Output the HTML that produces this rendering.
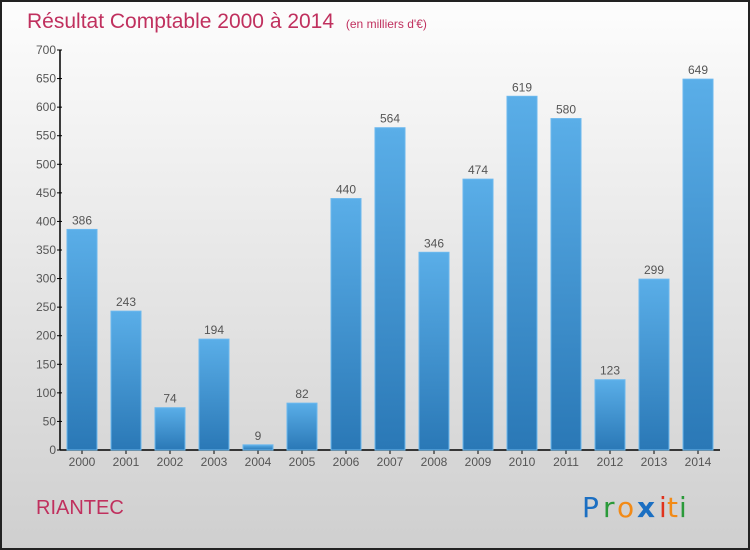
<!DOCTYPE html>
<html><head><meta charset="utf-8"><style>
body{margin:0;width:750px;height:550px;overflow:hidden;font-family:"Liberation Sans",sans-serif}
svg{display:block}
</style></head><body>
<svg id="chart" width="750" height="550">
<defs>
<linearGradient id="bg" x1="0" y1="0" x2="0" y2="1"><stop offset="0" stop-color="#fdfdfd"/><stop offset="1" stop-color="#cfcfcf"/></linearGradient>
<linearGradient id="bar" x1="0" y1="0" x2="0" y2="1"><stop offset="0" stop-color="#5aaee8"/><stop offset="1" stop-color="#2a78b6"/></linearGradient>
</defs>
<rect x="1" y="1" width="748" height="548" fill="url(#bg)" stroke="#222" stroke-width="2"/>
<text x="27" y="28" font-size="21" fill="#c0305e">Résultat Comptable 2000 à 2014 <tspan font-size="12" dx="6">(en milliers d'€)</tspan></text>
<text x="36" y="514" font-size="20" fill="#c0305e">RIANTEC</text>
<g font-size="28" font-family="'DejaVu Sans',sans-serif">
<text x="582" y="517" fill="#1b6fc2">P</text><text x="603" y="517" fill="#2a9a3a">r</text><text x="617" y="517" fill="#f28a16">o</text><text x="637" y="517" fill="#1b6fc2" font-weight="bold">x</text><text x="659" y="517" fill="#e0321c">i</text><text x="667" y="517" fill="#f28a16">t</text><text x="679" y="517" fill="#2a9a3a">i</text>
</g>
<g id="axes"></g><g id="bars"></g>
</svg>
<script>
const years=["2000","2001","2002","2003","2004","2005","2006","2007","2008","2009","2010","2011","2012","2013","2014"];
const values=[386,243,74,194,9,82,440,564,346,474,619,580,123,299,649];
const yTicks=[0,50,100,150,200,250,300,350,400,450,500,550,600,650,700];
const NS="http://www.w3.org/2000/svg";
const y=v=>450-v*400/700;
const x=i=>82+i*44;
function mk(t,a,p,txt){const e=document.createElementNS(NS,t);for(const k in a)e.setAttribute(k,a[k]);if(txt!=null)e.textContent=txt;p.appendChild(e);return e;}
const ax=document.getElementById('axes'),bg=document.getElementById('bars');
const yl=mk('line',{x1:60,y1:y(700),x2:60,y2:450,stroke:'#000','stroke-width':1.5},ax);


const xl=mk('line',{x1:60,y1:450,x2:720,y2:450,stroke:'#000','stroke-width':1.5},ax);


yTicks.forEach(t=>{
 mk('line',{x1:57,y1:y(t),x2:62,y2:y(t),stroke:'#000'},ax);
 const l=mk('text',{x:56,y:y(t)+4,'text-anchor':'end','font-size':12,fill:'#555'},ax,t);
 
 
});
years.forEach((yr,i)=>{
 const v=values[i];
 const r=mk('rect',{x:x(i)-15,y:y(v),width:30,height:450-y(v),fill:'url(#bar)',stroke:'#6bb8ee','stroke-width':1},bg);
 
 
 const vl=mk('text',{x:x(i),y:y(v)-5,'text-anchor':'middle','font-size':12,fill:'#555'},bg,v);
 
 
 mk('line',{x1:x(i),y1:450,x2:x(i),y2:454,stroke:'#000'},ax);
 const xt=mk('text',{x:x(i),y:466,'text-anchor':'middle','font-size':12,fill:'#555'},ax,yr);
 
 
});
</script>
</body></html>
